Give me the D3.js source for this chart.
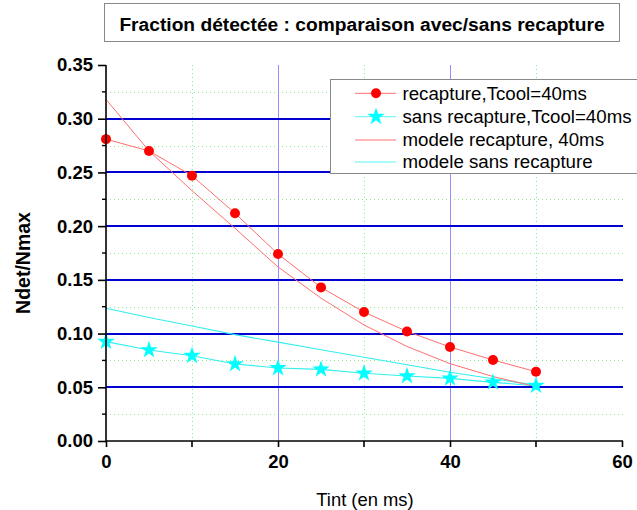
<!DOCTYPE html>
<html><head><meta charset="utf-8">
<script src="https://cdn.jsdelivr.net/npm/d3@7"></script>
<style>body{margin:0;background:#fff}svg{display:block}text{font-family:"Liberation Sans",Arial,sans-serif}</style>
</head><body><svg id="c" width="637" height="510"></svg>
<script>
const tint = [0,5,10,15,20,25,30,35,40,45,50];
const recapture = [0.281,0.270,0.247,0.212,0.174,0.143,0.120,0.102,0.0875,0.0754,0.0645];
const sansRecapture = [0.0925,0.0847,0.0794,0.0717,0.068,0.0667,0.063,0.0605,0.0583,0.0546,0.0515];
const modeleRecapture = [0.318,0.270,0.233,0.198,0.162,0.133,0.108,0.088,0.072,0.060,0.0506];
const modeleSans = [0.1235,0.115,0.107,0.099,0.092,0.085,0.078,0.071,0.064,0.058,0.052];
const xTicks = [0,20,40,60];
const xMinor = [10,30,50];
const yTicks = [0,0.05,0.10,0.15,0.20,0.25,0.30,0.35];
const yMinor = [0.025,0.075,0.125,0.175,0.225,0.275,0.325];
const seriesNames = ["recapture,Tcool=40ms","sans recapture,Tcool=40ms","modele recapture, 40ms","modele sans recapture"];
const title = "Fraction détectée : comparaison avec/sans recapture";

const svg = d3.select("#c");
const x = d3.scaleLinear().domain([0,60]).range([106,622]);
const y = d3.scaleLinear().domain([0,0.35]).range([441,65]);
const x0 = x.range()[0], x1 = x.range()[1]+1, yTop = y.range()[1], yBot = y.range()[0];

// title box
svg.append("rect").attr("x",104.5).attr("y",3.5).attr("width",515).attr("height",38)
  .attr("fill","#fff").attr("stroke","#888").attr("stroke-width",1);
svg.append("text").attr("x",362).attr("y",30.5).attr("text-anchor","middle")
  .attr("font-weight","bold").attr("font-size",19.2).attr("fill","#000").text(title);

// minor grid (dotted green)
const g = svg.append("g");
g.selectAll(".hm").data(yMinor).join("line").attr("x1",x0).attr("x2",x1)
  .attr("y1",d=>Math.round(y(d))+0.5).attr("y2",d=>Math.round(y(d))+0.5)
  .attr("stroke","#88ee88").attr("stroke-width",1).attr("stroke-dasharray","1,3");
g.selectAll(".vm").data(xMinor).join("line").attr("y1",yTop).attr("y2",yBot)
  .attr("x1",d=>Math.round(x(d))+0.5).attr("x2",d=>Math.round(x(d))+0.5)
  .attr("stroke","#88ee88").attr("stroke-width",1).attr("stroke-dasharray","1,3");
// major vertical grid
g.selectAll(".vM").data(xTicks.filter(d=>d>0&&d<60)).join("line").attr("y1",yTop).attr("y2",yBot)
  .attr("x1",d=>Math.round(x(d))+0.5).attr("x2",d=>Math.round(x(d))+0.5)
  .attr("stroke","#9090ff").attr("stroke-width",1);
// major horizontal grid
g.selectAll(".hM").data(yTicks.filter(d=>d>0&&d<0.35)).join("line").attr("x1",x0).attr("x2",x1)
  .attr("y1",d=>Math.round(y(d))).attr("y2",d=>Math.round(y(d)))
  .attr("stroke","#0000d0").attr("stroke-width",2);

// lines
const line = d3.line().x((d,i)=>x(tint[i])).y(d=>y(d));
svg.append("path").datum(modeleSans).attr("d",line).attr("fill","none").attr("stroke","#33eeee").attr("stroke-width",1.1);
svg.append("path").datum(sansRecapture).attr("d",line).attr("fill","none").attr("stroke","#33eeee").attr("stroke-width",1.1);
svg.append("path").datum(modeleRecapture).attr("d",line).attr("fill","none").attr("stroke","#ff6f6f").attr("stroke-width",1);
svg.append("path").datum(recapture).attr("d",line).attr("fill","none").attr("stroke","#ff6f6f").attr("stroke-width",1);

const star = d3.symbol().type(d3.symbolStar).size(95);
svg.selectAll(".st").data(sansRecapture).join("path").attr("d",star)
  .attr("transform",(d,i)=>`translate(${x(tint[i])},${y(d)})`).attr("fill","#00ffff");
svg.selectAll(".ci").data(recapture).join("circle")
  .attr("cx",(d,i)=>x(tint[i])).attr("cy",d=>y(d)).attr("r",5).attr("fill","#ff0000");

// axes
const yAxis = d3.axisLeft(y).tickValues(yTicks).tickSize(8).tickFormat(d3.format(".2f"));
const ya = svg.append("g").attr("transform",`translate(${x0},0)`).call(yAxis);
ya.select(".domain").attr("d",`M0,${yTop}V${yBot}`).attr("stroke","#000").attr("stroke-width",1.6);
ya.selectAll(".tick line").attr("stroke","#000").attr("stroke-width",1.6);
ya.selectAll(".tick text").attr("font-size",18.5).attr("font-weight","bold").attr("fill","#000")
  .attr("font-family","Liberation Sans, Arial, sans-serif").attr("x",-13);
svg.append("g").selectAll("line").data(yMinor).join("line")
  .attr("x1",x0-4).attr("x2",x0).attr("y1",d=>y(d)).attr("y2",d=>y(d)).attr("stroke","#000").attr("stroke-width",1.4);

const xAxis = d3.axisBottom(x).tickValues(xTicks).tickSize(6).tickFormat(d3.format("d"));
const xa = svg.append("g").attr("transform",`translate(0,${yBot})`).call(xAxis);
xa.select(".domain").attr("d",`M${x0},0H${x1}`).attr("stroke","#000").attr("stroke-width",1.6);
xa.selectAll(".tick line").attr("stroke","#000").attr("stroke-width",1.6);
xa.selectAll(".tick text").attr("font-size",18.5).attr("font-weight","bold").attr("fill","#000")
  .attr("font-family","Liberation Sans, Arial, sans-serif").attr("y",14);
svg.append("g").selectAll("line").data(xMinor).join("line")
  .attr("x1",d=>x(d)).attr("x2",d=>x(d)).attr("y1",yBot).attr("y2",yBot+6).attr("stroke","#000").attr("stroke-width",1.6);

// axis titles
svg.append("text").attr("x",365).attr("y",506).attr("text-anchor","middle").attr("font-size",18.4).attr("fill","#000").text("Tint (en ms)");
svg.append("text").attr("transform","translate(30,263) rotate(-90)").attr("text-anchor","middle")
  .attr("font-size",19.5).attr("font-weight","bold").attr("fill","#000").text("Ndet/Nmax");

// legend
const lg = svg.append("g");
lg.append("rect").attr("x",330.5).attr("y",79.5).attr("width",320).attr("height",94)
  .attr("fill","#fff").attr("stroke","#888").attr("stroke-width",1);
const rowsY = [93.3,116.7,140,162];
const lcol = ["#ff6f6f","#55f5f5","#ff6f6f","#55f5f5"];
seriesNames.forEach((name,i)=>{
  lg.append("line").attr("x1",355).attr("x2",396).attr("y1",rowsY[i]).attr("y2",rowsY[i]).attr("stroke",lcol[i]).attr("stroke-width",1);
  lg.append("text").attr("x",402.5).attr("y",rowsY[i]+6.2).attr("font-size",18.7).attr("fill","#000").text(name);
});
lg.append("circle").attr("cx",376).attr("cy",rowsY[0]).attr("r",5).attr("fill","#ff0000");
lg.append("path").attr("d",star).attr("transform",`translate(376,${rowsY[1]})`).attr("fill","#00ffff");
</script></body></html>
